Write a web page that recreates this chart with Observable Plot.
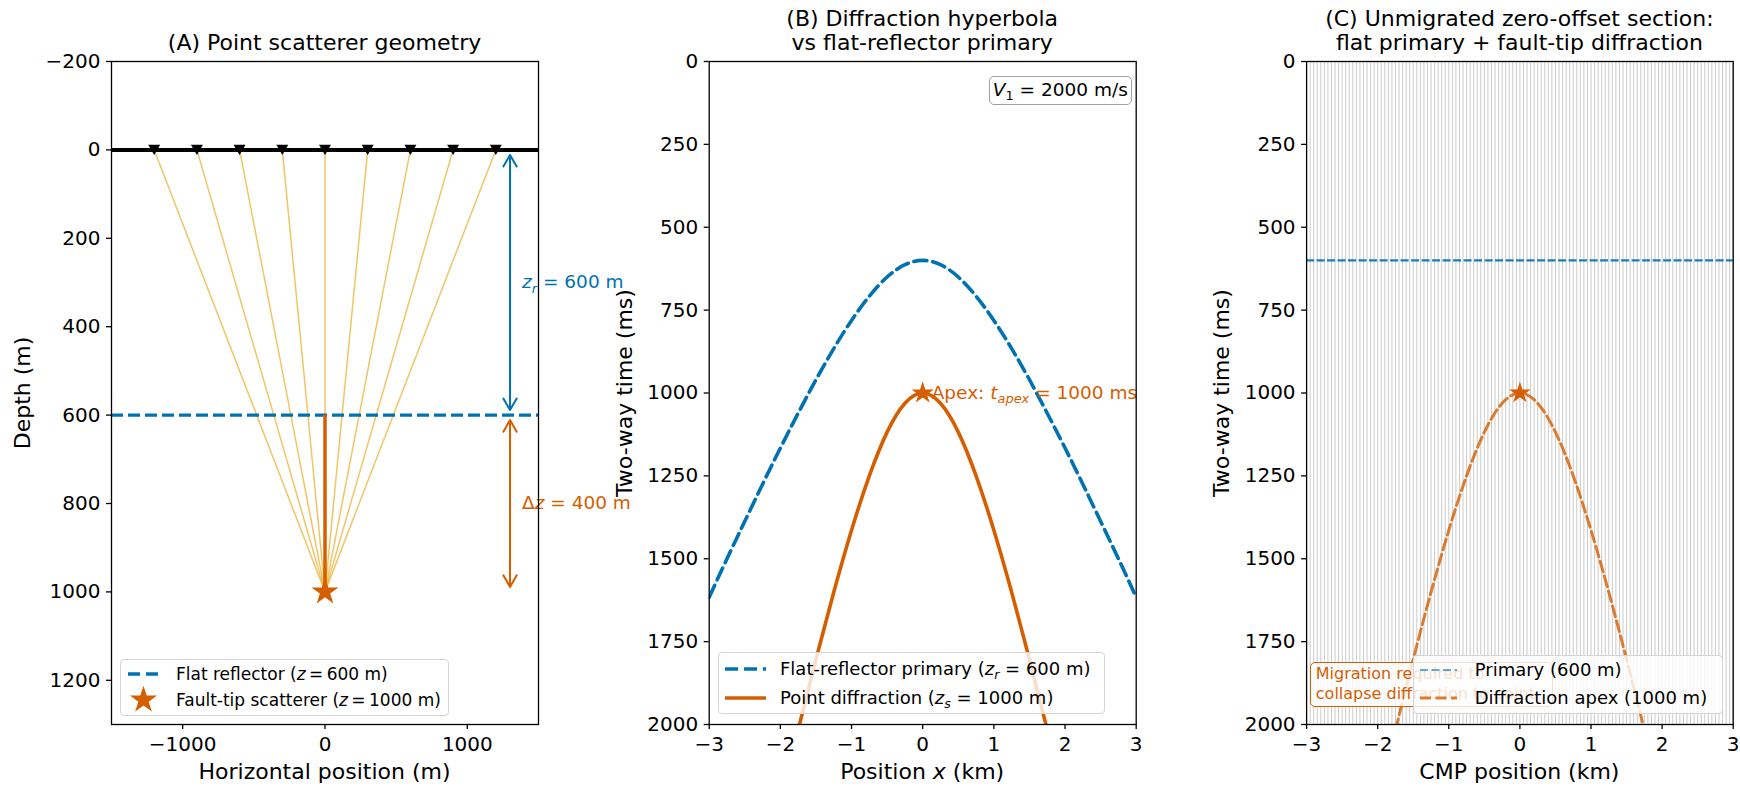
<!DOCTYPE html>
<html><head><meta charset="utf-8">
<script src="https://cdn.jsdelivr.net/npm/d3@7"></script>
<script src="https://cdn.jsdelivr.net/npm/@observablehq/plot@0.6"></script>
<style>
body{margin:0;background:#fff;}
#wrap{position:relative;width:1740px;height:787px;overflow:hidden;font-family:"DejaVu Sans",sans-serif;color:#000;background:#fff;}
#wrap div{position:absolute;white-space:nowrap;}
sub{font-size:70%;vertical-align:-0.3em;line-height:0;}
</style>
</head><body><div id="wrap"></div>
<script>
// ---------------- data ----------------
// Panel A: geometry
const receiverX = [-1200, -900, -600, -300, 0, 300, 600, 900, 1200];
const surfaceZ = 0;
const reflectorZ = 600;
const scattererX = 0;
const scattererZ = 1000;
const annotX = 1300;
const horizTicks = [-1000, 0, 1000];
const depthTicks = [-200, 0, 200, 400, 600, 800, 1000, 1200];
// Panel B / C: travel-time curves
const primaryX = [-3, -2.75, -2.5, -2.25, -2, -1.75, -1.5, -1.25, -1, -0.75, -0.5, -0.25, 0, 0.25, 0.5, 0.75, 1, 1.25, 1.5, 1.75, 2, 2.25, 2.5, 2.75, 3];
const primaryT = [1616, 1500, 1387, 1275, 1166, 1061, 960, 866, 781, 708, 650, 613, 600, 613, 650, 708, 781, 866, 960, 1061, 1166, 1275, 1387, 1500, 1616];
const diffX = [-1.75, -1.5, -1.25, -1, -0.75, -0.5, -0.25, 0, 0.25, 0.5, 0.75, 1, 1.25, 1.5, 1.75];
const diffT = [2016, 1803, 1601, 1414, 1250, 1118, 1031, 1000, 1031, 1118, 1250, 1414, 1601, 1803, 2016];
const apexX = 0, apexT = 1000, primaryFlatT = 600;
const kmTicks = [-3, -2, -1, 0, 1, 2, 3];
const timeTicks = [0, 250, 500, 750, 1000, 1250, 1500, 1750, 2000];

// ---------------- style ----------------
const BLUE = "#0072B2", ORANGE = "#D55E00", RAY = "#E69F00";
const FONT = "DejaVu Sans";
const TICK = 20, LAB = 22, ANN = 18.5, LEG = 17.5;
const wrap = document.getElementById("wrap");

function axes(xt, yt) {
  return [
    Plot.axisX({ticks: xt, tickFormat: d3.format("d"), tickSize: 5, tickPadding: 7, fontSize: TICK, label: null, strokeWidth: 1.3}),
    Plot.axisY({ticks: yt, tickFormat: d3.format("d"), tickSize: 5, tickPadding: 6, fontSize: TICK, label: null, strokeWidth: 1.3}),
    Plot.frame({stroke: "black", strokeWidth: 1.3})
  ];
}
function place(svg, left) {
  const d = document.createElement("div");
  Object.assign(d.style, {left: left + "px", top: "0px", width: "580px", height: "787px"});
  d.appendChild(svg);
  wrap.appendChild(d);
}
function subT(base, s, rest, fs) {
  const o = (fs * 0.22).toFixed(2);
  return `<tspan font-style="italic">${base}</tspan><tspan font-style="italic" font-size="${(fs * 0.7).toFixed(2)}px" dy="${o}">${s}</tspan><tspan dy="-${o}">${rest}</tspan>`;
}
function applyMath(svg, map) {
  svg.querySelectorAll("text").forEach(t => { if (map[t.textContent]) t.innerHTML = map[t.textContent]; });
}
const common = {width: 580, height: 787, marginTop: 61, marginBottom: 63,
  style: {fontFamily: FONT, background: "transparent", overflow: "visible"}};

// ---------------- Panel A ----------------
const plotA = Plot.plot({...common, marginLeft: 111, marginRight: 42,
  x: {domain: [-1500, 1500]},
  y: {domain: [-200, 1300], reverse: true},
  marks: [
    Plot.link(receiverX, {x1: d => d, y1: d => surfaceZ, x2: d => scattererX, y2: d => scattererZ, stroke: RAY, strokeOpacity: 0.6, strokeWidth: 1.5}),
    Plot.ruleY([surfaceZ], {stroke: "black", strokeWidth: 4}),
    Plot.ruleY([reflectorZ], {stroke: BLUE, strokeWidth: 3.3, strokeDasharray: "12,5"}),
    Plot.ruleX([scattererX], {y1: reflectorZ, y2: scattererZ, stroke: ORANGE, strokeWidth: 3.5}),
    Plot.dot(receiverX, {x: d => d, y: d => surfaceZ, symbol: "triangle", rotate: 180, r: 4.45, dy: -1.8, fill: "black"}),
    Plot.dot([scattererZ], {x: d => scattererX, y: d => d, symbol: "star", r: 8.5, fill: ORANGE}),
    Plot.arrow([[surfaceZ, reflectorZ], [reflectorZ, surfaceZ]], {x1: d => annotX, x2: d => annotX, y1: d => (d[0] + d[1]) / 2, y2: d => d[1], stroke: BLUE, strokeWidth: 2, headLength: 10, insetEnd: 5}),
    Plot.arrow([[reflectorZ, scattererZ], [scattererZ, reflectorZ]], {x1: d => annotX, x2: d => annotX, y1: d => (d[0] + d[1]) / 2, y2: d => d[1], stroke: ORANGE, strokeWidth: 2, headLength: 10, insetEnd: 5}),
    Plot.text(["§zr"], {x: d => annotX, y: d => (surfaceZ + reflectorZ) / 2, text: d => d, dx: 12, textAnchor: "start", fill: BLUE, fontSize: ANN}),
    Plot.text(["§dz"], {x: d => annotX, y: d => (reflectorZ + scattererZ) / 2, text: d => d, dx: 12, textAnchor: "start", fill: ORANGE, fontSize: ANN}),
    ...axes(horizTicks, depthTicks)
  ]
});
applyMath(plotA, {
  "§zr": subT("z", "r", " = 600 m", ANN),
  "§dz": `Δ<tspan font-style="italic">z</tspan> = 400 m`
});
place(plotA, 0);

// ---------------- Panel B ----------------
const plotB = Plot.plot({...common, marginLeft: 128.7, marginRight: 24.3,
  x: {domain: [-3, 3]},
  y: {domain: [0, 2000], reverse: true},
  marks: [
    Plot.line(primaryX, {x: d => d, y: (d, i) => primaryT[i], stroke: BLUE, strokeWidth: 3.6, strokeDasharray: "13,6", curve: "natural", clip: true}),
    Plot.line(diffX, {x: d => d, y: (d, i) => diffT[i], stroke: ORANGE, strokeWidth: 3.6, curve: "natural", clip: true}),
    Plot.dot([apexT], {x: d => apexX, y: d => d, symbol: "star", r: 7, fill: ORANGE}),
    Plot.text(["§apex"], {x: d => apexX, y: d => apexT, text: d => d, dx: 9, textAnchor: "start", fill: ORANGE, fontSize: ANN}),
    ...axes(kmTicks, timeTicks)
  ]
});
applyMath(plotB, {"§apex": "Apex: " + subT("t", "apex", " = 1000 ms", ANN)});
place(plotB, 580);

// ---------------- Panel C ----------------
const plotC = Plot.plot({...common, marginLeft: 146.1, marginRight: 7.3,
  x: {domain: [-3, 3]},
  y: {domain: [0, 2000], reverse: true},
  marks: [
    Plot.gridX({ticks: 120, stroke: "#a8a8a8", strokeOpacity: 0.75, strokeWidth: 0.8}),
    Plot.ruleY([primaryFlatT], {stroke: BLUE, strokeOpacity: 0.9, strokeWidth: 2.2, strokeDasharray: "8,2.5"}),
    Plot.line(diffX, {x: d => d, y: (d, i) => diffT[i], stroke: ORANGE, strokeOpacity: 0.8, strokeWidth: 3, strokeDasharray: "11,4.5", curve: "natural", clip: true}),
    Plot.dot([apexT], {x: d => apexX, y: d => d, symbol: "star", r: 6.8, fill: ORANGE}),
    ...axes(kmTicks, timeTicks)
  ]
});
place(plotC, 1160);

// ---------------- HTML text ----------------
function addDiv(html, css) {
  const d = document.createElement("div");
  d.innerHTML = html;
  Object.assign(d.style, css);
  wrap.appendChild(d);
  return d;
}
const frames = [{l: 111, r: 538}, {l: 708.7, r: 1135.7}, {l: 1306.1, r: 1732.7}];
const titles = ["(A) Point scatterer geometry", "(B) Diffraction hyperbola<br>vs flat-reflector primary", "(C) Unmigrated zero-offset section:<br>flat primary + fault-tip diffraction"];
const titleTop = [31, 7, 7];
const xLabels = ["Horizontal position (m)", "Position <i>x</i> (km)", "CMP position (km)"];
const yLabels = ["Depth (m)", "Two-way time (ms)", "Two-way time (ms)"];
const yLabelLeft = [12, 614, 1210.5];
frames.forEach((f, i) => {
  const cx = (f.l + f.r) / 2;
  addDiv(titles[i], {left: cx + "px", top: titleTop[i] + "px", fontSize: LAB + "px", lineHeight: "23.5px", textAlign: "center", transform: "translateX(-50%)"});
  addDiv(xLabels[i], {left: cx + "px", top: (780 - 0.846 * LAB) + "px", fontSize: LAB + "px", lineHeight: "1", transform: "translateX(-50%)"});
  addDiv(yLabels[i], {left: yLabelLeft[i] + "px", top: "392.5px", fontSize: LAB + "px", lineHeight: "1", transformOrigin: "0 0", transform: "rotate(-90deg) translateX(-50%)"});
});

const starPath = r => d3.symbol(d3.symbolStar, Math.PI * r * r)();
function legend({left, top, width, height, sx, sw, tx, rows, fs = LEG}) {
  const box = addDiv("", {left: left + "px", top: top + "px", width: width + "px", height: height + "px", boxSizing: "border-box",
    border: "1.3px solid #d4d4d4", borderRadius: "4px", background: "rgba(255,255,255,0.8)"});
  rows.forEach(r => {
    const s = document.createElement("div");
    Object.assign(s.style, {left: sx + "px", top: (r.y - 15) + "px", width: sw + "px", height: "30px"});
    s.innerHTML = `<svg width="${sw}" height="30" style="overflow:visible;display:block">${r.swatch(sw)}</svg>`;
    box.appendChild(s);
    const t = document.createElement("div");
    Object.assign(t.style, {left: tx + "px", top: r.y + "px", fontSize: fs + "px", lineHeight: "1", transform: "translateY(-50%)"});
    t.innerHTML = r.text;
    box.appendChild(t);
  });
}
const dashSw = (color, w, dash, op = 1) => sw => `<line x1="0" x2="${sw}" y1="15" y2="15" stroke="${color}" stroke-width="${w}" stroke-dasharray="${dash}" stroke-opacity="${op}"/>`;

legend({left: 120, top: 659, width: 329, height: 57, sx: 7, sw: 31, tx: 55, fs: 17, rows: [
  {y: 14, swatch: dashSw(BLUE, 3.3, "12,6"), text: "Flat reflector (<i>z</i>\u2009=\u2009600 m)"},
  {y: 40, swatch: sw => `<path transform="translate(${sw / 2},15)" d="${starPath(8.5)}" fill="${ORANGE}"/>`, text: "Fault-tip scatterer (<i>z</i>\u2009=\u20091000 m)"}
]});
legend({left: 718, top: 652, width: 387, height: 62, sx: 6, sw: 41, tx: 61, fs: 18, rows: [
  {y: 16, swatch: dashSw(BLUE, 3.6, "13,6"), text: "Flat-reflector primary (<i>z<sub>r</sub></i> = 600 m)"},
  {y: 45, swatch: dashSw(ORANGE, 3.6, "none"), text: "Point diffraction (<i>z<sub>s</sub></i> = 1000 m)"}
]});
addDiv("<i>V</i><sub>1</sub> = 2000 m/s", {left: "988.8px", top: "76px", width: "143px", height: "29px", boxSizing: "border-box",
  border: "1.5px solid #a0a0a0", borderRadius: "5px", background: "#fff", fontSize: ANN + "px", lineHeight: "26px", textAlign: "center"});
addDiv("Migration required to<br>collapse diffraction to point", {left: "1309.8px", top: "662px", width: "243.5px", height: "45px", boxSizing: "border-box",
  border: "1.3px solid " + ORANGE, borderRadius: "5px", background: "rgba(255,255,255,0.8)", color: ORANGE, fontSize: "16px", lineHeight: "20px", padding: "1px 5px"});
legend({left: 1412.7, top: 655, width: 310, height: 59, sx: 6, sw: 37, tx: 61, fs: 18, rows: [
  {y: 14, swatch: dashSw(BLUE, 2, "8,3.5", 0.6), text: "Primary (600 m)"},
  {y: 42, swatch: dashSw(ORANGE, 3, "11,4.5", 0.8), text: "Diffraction apex (1000 m)"}
]});
</script>
</body></html>
